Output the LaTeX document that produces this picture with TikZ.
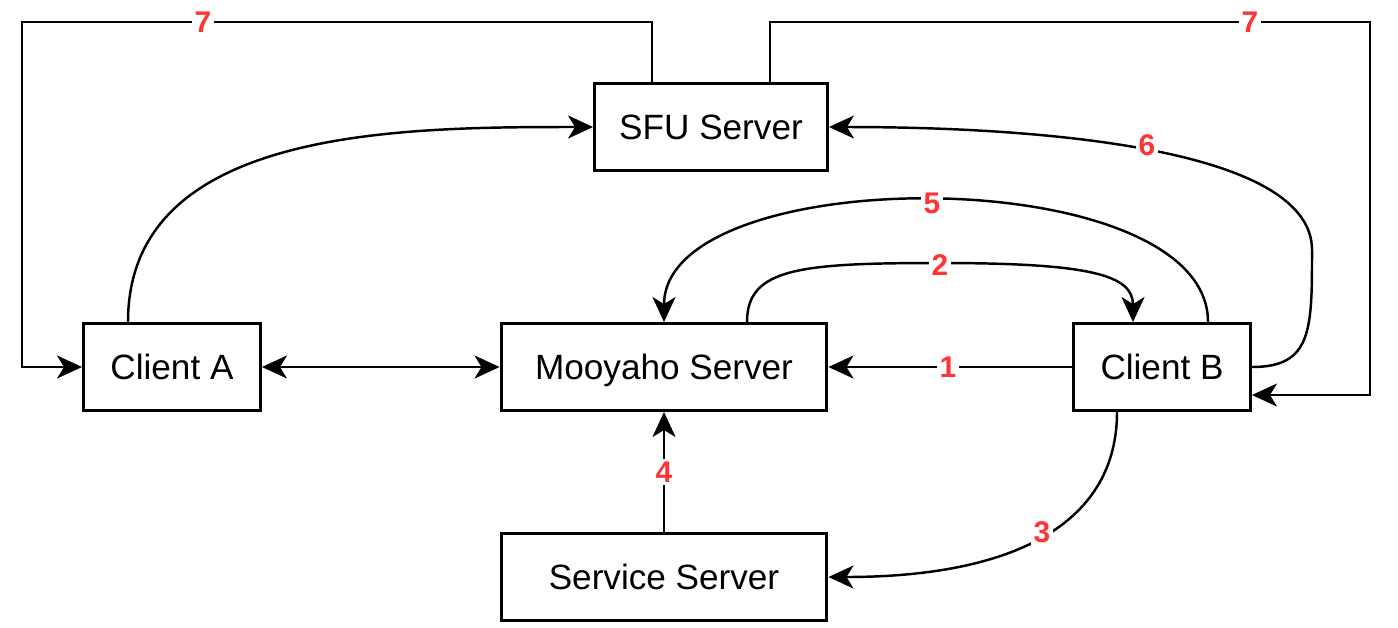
\documentclass[tikz,border=0pt]{standalone}
\usepackage{fontspec}
\setmainfont{Liberation Sans}
\usetikzlibrary{arrows.meta,calc}
\definecolor{stepred}{HTML}{FF3333}
\tikzset{>={Stealth[length=0.5cm,width=0.46cm,inset=0.14cm]}}
\tikzset{server/.style={draw,line width=1.7pt,fill=white,minimum height=1.74cm,text depth=0pt,font=\fontsize{20}{24}\selectfont}}
\tikzset{flow/.style={line width=1.4pt,->}}
\tikzset{stepnum/.style={fill=white,text=stepred,inner sep=1.5pt,font=\fontsize{17}{20}\selectfont\bfseries}}

\begin{document}
\begin{tikzpicture}[x=0.02cm,y=-0.02cm]
  \useasboundingbox (0,0) rectangle (1398,627);

  % Boxes
  \node[server,minimum width=4.66cm] (sfu) at (711,127) {SFU Server};
  \node[server,minimum width=3.54cm] (clientA) at (172,367) {Client A};
  \node[server,minimum width=6.52cm] (mooyaho) at (664,367) {Mooyaho Server};
  \node[server,minimum width=3.54cm] (clientB) at (1162,367) {Client B};
  \node[server,minimum width=6.52cm] (service) at (664,577) {Service Server};

  % Ends
  \coordinate (a1) at ($(clientA.north)+(-44,0)$);
  \coordinate (m2) at ($(mooyaho.north)+(83,0)$);
  \coordinate (b2) at ($(clientB.north)+(-29,0)$);
  \coordinate (b5) at ($(clientB.north)+(46,0)$);
  \coordinate (b3) at ($(clientB.south)+(-45,0)$);
  \coordinate (b7) at ($(clientB.east)+(0,28)$);
  \coordinate (s7l) at ($(sfu.north)+(-59,0)$);
  \coordinate (s7r) at ($(sfu.north)+(59,0)$);

  % Lines
  \draw[flow,<->] (clientA.east) -- (mooyaho.west);
  \draw[flow] (a1) .. controls (128,128) and (399,127) .. (sfu.west);
  \draw[flow] (clientB.west) -- (mooyaho.east);
  \draw[flow] (m2) .. controls (747,268) and (800,263) .. (940,263)
    .. controls (1090,263) and (1133,275) .. (b2);
  \draw[flow] (b3) .. controls (1117,520) and (1020,577) .. (service.east);
  \draw[flow] (service.north) -- (mooyaho.south);
  \draw[flow] (b5) .. controls (1208,160) and (664,160) .. (mooyaho.north);
  \draw[flow] (clientB.east) .. controls (1312,367) and (1312,330) .. (1312,250)
    .. controls (1312,150) and (1050,127) .. (sfu.east);
  \draw[flow] (s7l) |- (22,22) |- (clientA.west);
  \draw[flow] (s7r) |- (1370,22) |- (b7);

  % Label
  \node[stepnum] (n1) at (948,367) {1};
  \node[stepnum] (n2) at (940,265) {2};
  \node[stepnum] (n3) at (1042,532) {3};
  \node[stepnum] (n4) at (664,472) {4};
  \node[stepnum] (n5) at (932,203) {5};
  \node[stepnum] (n6) at (1147,145) {6};
  \node[stepnum] (n7a) at (203,22) {7};
  \node[stepnum] (n7b) at (1250,22) {7};
\end{tikzpicture}
\end{document}
